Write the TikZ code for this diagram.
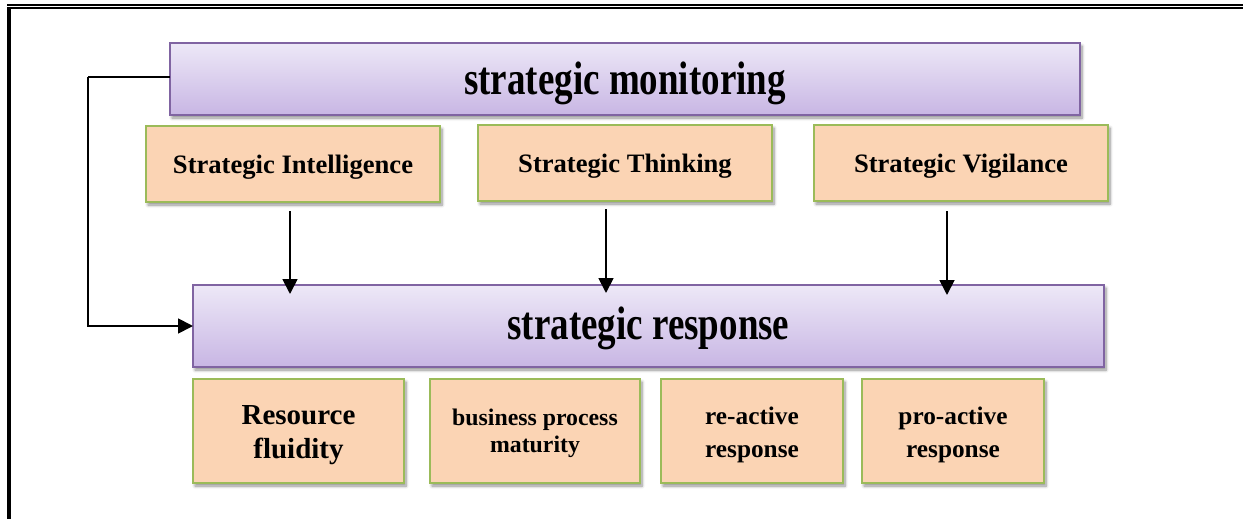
\documentclass[tikz,border=0pt]{standalone}
\usepackage{fontspec}
\usepackage{graphicx}
\setmainfont{Liberation Serif}
\usetikzlibrary{arrows.meta,shadows.blur}

\definecolor{lavtop}{RGB}{237,232,247}
\definecolor{lavbot}{RGB}{200,182,228}
\definecolor{purpleline}{RGB}{128,100,162}
\definecolor{peach}{RGB}{251,212,180}
\definecolor{greenline}{RGB}{155,187,89}

% lower a piece of text without changing the box TikZ centres
\newcommand\droptext[2]{\raisebox{-#1}[\height][\depth]{#2}}
% narrow, tall heading lettering
\newcommand\headtext[1]{\scalebox{0.787}[1]{#1}}
% two centred lines
\newcommand\twolines[2]{\begin{tabular}{@{}c@{}}#1\\#2\end{tabular}}

\begin{document}
\begin{tikzpicture}[x=1pt,y=-1pt,
  softshadow/.style={blur shadow={shadow xshift=2pt,shadow yshift=-3pt,
      shadow blur steps=6,shadow blur radius=3pt,shadow opacity=45}},
  headbox/.style={draw=purpleline,line width=2pt,top color=lavtop,
      bottom color=lavbot,inner sep=0pt,outer sep=0pt,anchor=north west,
      font=\bfseries\fontsize{47}{50}\selectfont,softshadow},
  itembox/.style={draw=greenline,line width=2pt,fill=peach,inner sep=0pt,
      outer sep=0pt,anchor=north west,align=center,softshadow},
  smallfont/.style={font=\bfseries\fontsize{26.6}{30}\selectfont},
  arr/.style={line width=1.8pt,-{Triangle[length=15pt,width=15pt]}}]

\useasboundingbox (0,0) rectangle (1243,519);

% page frame
\draw[line width=2.6pt] (7,5) -- (1243,5);
\draw[line width=1.4pt] (11,8) -- (1243,8);
\draw[line width=4pt] (9,7) -- (9,519);

% monitoring level
\node[headbox,minimum width=910pt,minimum height=72pt] (mon) at (170,43)
  {\droptext{4.7pt}{\headtext{strategic monitoring}}};
\node[itembox,smallfont,minimum width=294pt,minimum height=76pt] (si) at (146,126)
  {\droptext{3.5pt}{Strategic Intelligence}};
\node[itembox,smallfont,minimum width=294pt,minimum height=76pt] (st) at (478,125)
  {\droptext{3.5pt}{Strategic Thinking}};
\node[itembox,smallfont,minimum width=294pt,minimum height=76pt] (sv) at (814,125)
  {\droptext{3.5pt}{Strategic Vigilance}};

% response level
\node[headbox,minimum width=911pt,minimum height=82pt] (resp) at (193,285)
  {\droptext{2.7pt}{\headtext{strategic response}}};
\node[itembox,font=\bfseries\fontsize{29}{34}\selectfont,
      minimum width=211pt,minimum height=104pt] (rf) at (193,379)
  {\droptext{3.5pt}{\twolines{Resource}{fluidity}}};
\node[itembox,font=\bfseries\fontsize{23.8}{27}\selectfont,
      minimum width=210pt,minimum height=104pt] (bp) at (430,379)
  {\droptext{3pt}{\twolines{business process}{maturity}}};
\node[itembox,font=\bfseries\fontsize{25.3}{33}\selectfont,
      minimum width=182pt,minimum height=104pt] (ra) at (661,379)
  {\droptext{3.5pt}{\twolines{re-active}{response}}};
\node[itembox,font=\bfseries\fontsize{25.3}{33}\selectfont,
      minimum width=182pt,minimum height=104pt] (pa) at (862,379)
  {\droptext{3.5pt}{\twolines{pro-active}{response}}};

% connectors
\draw[arr] ([xshift=-3pt,yshift=-9pt]si.south) -- ([xshift=-3pt,yshift=-9pt]si.south |- resp.north);
\draw[arr] ([xshift=-19pt,yshift=-8pt]st.south) -- ([xshift=-19pt,yshift=-8pt]st.south |- resp.north);
\draw[arr] ([xshift=-14pt,yshift=-10pt]sv.south) -- ([xshift=-14pt,yshift=-10pt]sv.south |- resp.north);
\draw[line width=1.8pt] ([yshift=2pt]mon.west) -- ++(-82,0) coordinate (elbow);
\draw[arr] (elbow) |- (resp.west);

\end{tikzpicture}
\end{document}
